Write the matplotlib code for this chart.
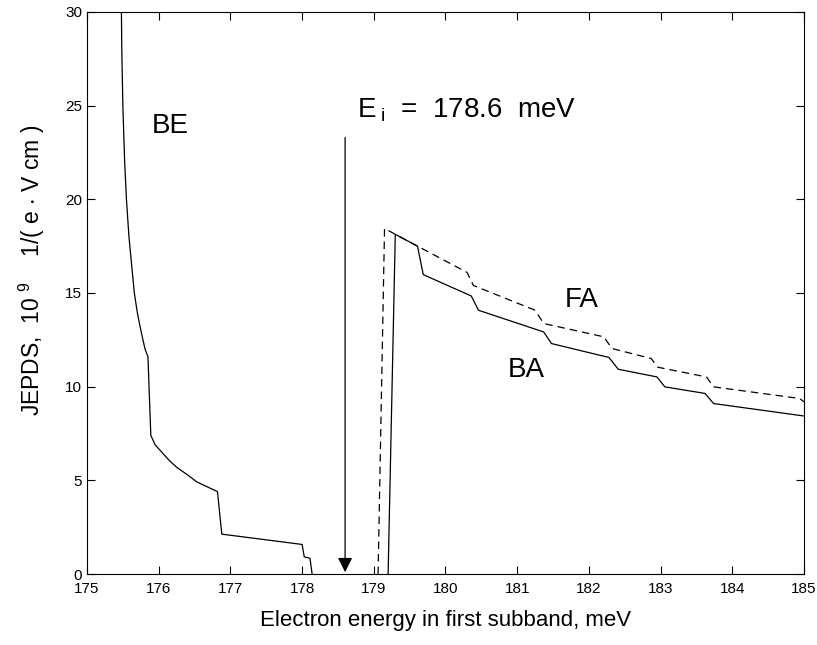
import matplotlib
matplotlib.use("Agg")
import matplotlib.pyplot as plt

plt.rcParams['font.family'] = ['Liberation Sans', 'DejaVu Sans']
plt.rcParams['mathtext.default'] = 'regular'

# BE curve (bound electron)
be_x = [175.48, 175.485, 175.50, 175.525, 175.55, 175.585, 175.61, 175.635, 175.66,
        175.70, 175.73, 175.78, 175.81, 175.85, 175.87, 175.89,
        175.95, 176.06, 176.15, 176.25, 176.40, 176.53, 176.68, 176.82,
        176.88, 178.00, 178.03, 178.11, 178.14]
be_y = [30.0, 28.0, 25.0, 22.0, 20.0, 18.0, 17.0, 16.0, 15.0,
        14.0, 13.4, 12.5, 12.0, 11.6, 9.5, 7.4,
        6.9, 6.43, 6.05, 5.7, 5.3, 4.92, 4.65, 4.4,
        2.13, 1.58, 0.92, 0.84, 0.0]

# FA curve (dashed)
fa_x = [179.06, 179.15, 179.61, 180.30, 180.39, 181.25, 181.37, 182.21, 182.32,
        182.87, 182.96, 183.64, 183.74, 184.94, 185.0]
fa_y = [0.0, 18.44, 17.5, 16.1, 15.4, 14.08, 13.37, 12.66, 12.04,
        11.5, 11.04, 10.52, 9.99, 9.37, 9.19]

# BA curve (solid)
ba_x = [179.20, 179.30, 179.61, 179.69, 180.36, 180.46, 181.37, 181.48, 182.28,
        182.41, 182.95, 183.06, 183.62, 183.74, 184.99]
ba_y = [0.0, 18.13, 17.5, 15.98, 14.84, 14.08, 12.92, 12.3, 11.56,
        10.93, 10.52, 9.99, 9.64, 9.1, 8.44]

e_i = 178.6
xticks = list(range(175, 186))
yticks = [0, 5, 10, 15, 20, 25, 30]

fig = plt.figure(figsize=(8.17, 6.45), dpi=100)
ax = fig.add_axes([0.1065, 0.110, 0.8775, 0.8715])

ax.plot(be_x, be_y, color='black', lw=0.9)
ax.plot(fa_x, fa_y, color='black', lw=0.9, dashes=(6, 4))
ax.plot(ba_x, ba_y, color='black', lw=0.9)

ax.annotate('', xy=(e_i, 0.1), xytext=(e_i, 23.3),
            arrowprops=dict(arrowstyle='-|>', color='black', lw=0.9,
                            mutation_scale=22, shrinkA=0, shrinkB=0))

ax.text(e_i + 0.17, 24.37, r"E$\,_{i}$  =  178.6  meV", fontsize=20, va='baseline', ha='left')
ax.text(176.16, 23.9, "BE", fontsize=20, ha='center', va='center')
ax.text(181.9, 14.6, "FA", fontsize=20, ha='center', va='center')
ax.text(181.13, 10.9, "BA", fontsize=20, ha='center', va='center')

ax.set_xlim(175, 185)
ax.set_ylim(0, 30)
ax.set_xticks(xticks)
ax.set_yticks(yticks)
ax.tick_params(direction='in', top=True, right=True, labelsize=11, length=6)
ax.tick_params(axis='x', pad=6)

ax.set_xlabel("Electron energy in first subband, meV", fontsize=16, labelpad=10)
ax.set_ylabel(r"JEPDS,  10 $^{9}$    1/( e $\cdot$ V cm )", fontsize=16.5)
ax.yaxis.set_label_coords(-0.056, 0.54)

fig.savefig("out.png", dpi=100)
